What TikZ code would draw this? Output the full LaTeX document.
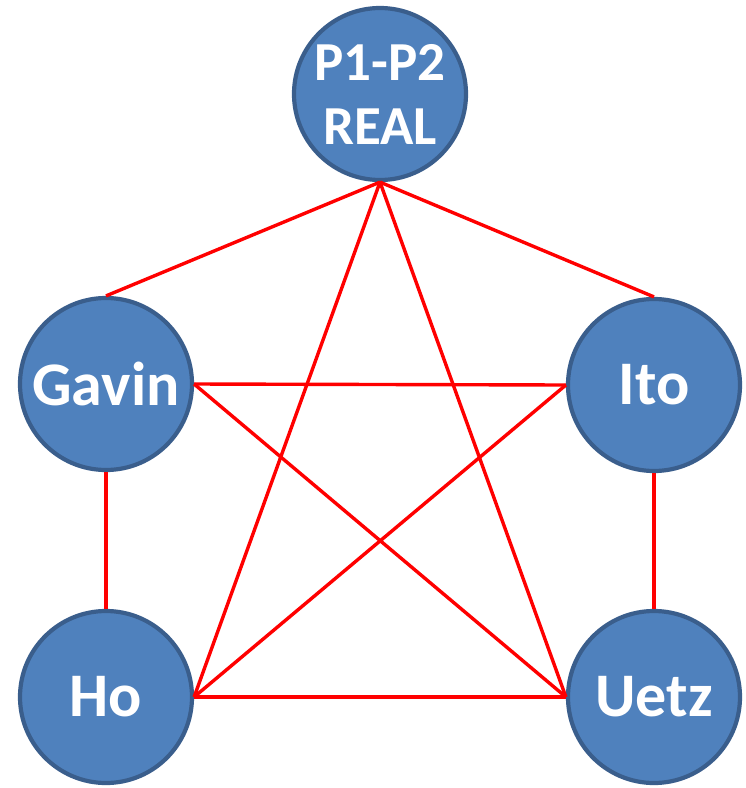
\documentclass[tikz,border=0pt]{standalone}
\usepackage{fontspec}
\setmainfont{Carlito}
\definecolor{wezel}{HTML}{4F81BD}
\definecolor{obrys}{HTML}{3A5E8C}
\begin{document}
\begin{tikzpicture}[x=1pt, y=-1pt,
    osoba/.style={circle, minimum size=172pt, inner sep=0pt, fill=wezel, draw=obrys, line width=4.2pt, text=white, font=\bfseries\fontsize{62}{66}\selectfont},
    krawedz/.style={red, line width=3.4pt}]
        \useasboundingbox (0,0) rectangle (746,788);
        % Wezly
        \node[osoba, font=\bfseries\fontsize{55}{64}\selectfont, align=center] (P) at (380,94) {P1-P2\\REAL};
        \node[osoba] (G) at (106,384) {Gavin};
        \node[osoba] (I) at (654,385) {Ito};
        \node[osoba] (H) at (106,697) {Ho};
        \node[osoba] (U) at (654,697) {Uetz};
        
        % Polaczenia
        \draw[krawedz] (P.south) -- (G.north);
        \draw[krawedz] (P.south) -- (I.north);
        \draw[krawedz] (P.south) -- (H.east);
        \draw[krawedz] (P.south) -- (U.west);
        \draw[krawedz] (G.east) -- (I.west);
        \draw[krawedz] (G.east) -- (U.west);
        \draw[krawedz] (I.west) -- (H.east);
        \draw[krawedz] (G.south) -- (H.north);
        \draw[krawedz] (I.south) -- (U.north);
        \draw[krawedz] (H.east) -- (U.west);
        
    \end{tikzpicture}
\end{document}
